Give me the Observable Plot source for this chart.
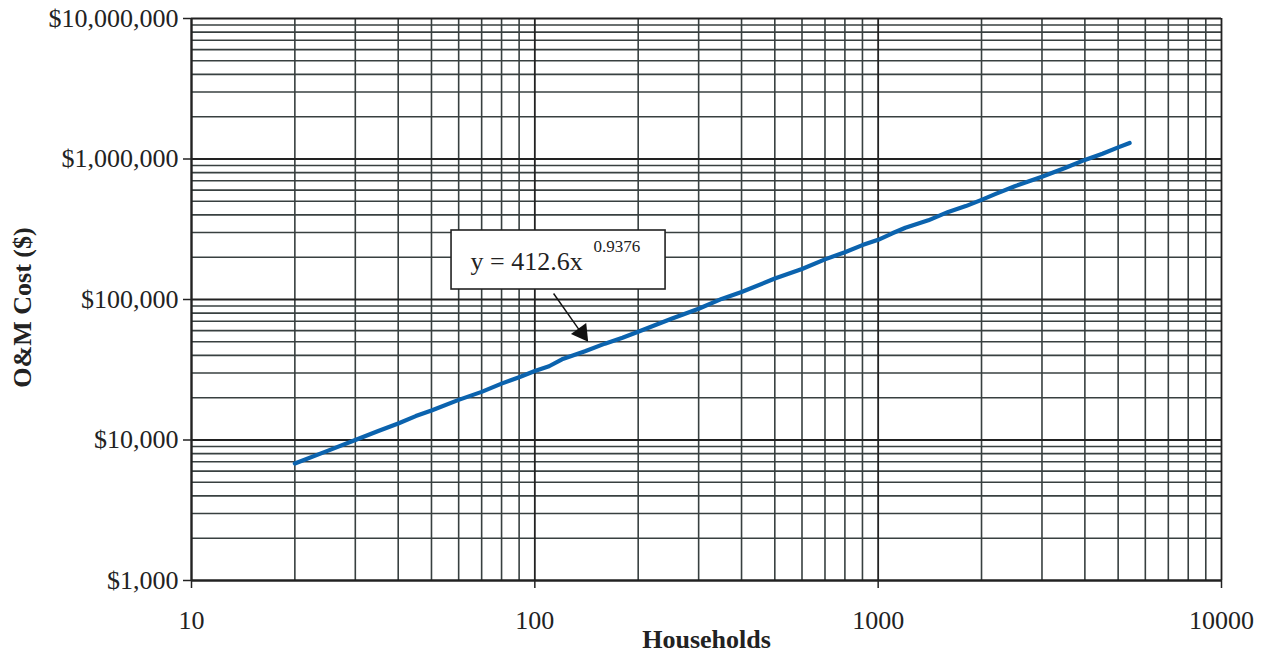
<!DOCTYPE html>
<html>
<head>
<meta charset="utf-8">
<script src="https://cdn.jsdelivr.net/npm/d3@7"></script>
<script src="https://cdn.jsdelivr.net/npm/@observablehq/plot@0.6"></script>
<style>
  html, body { margin: 0; padding: 0; background: #fff; }
  #chart svg { display: block; }
</style>
</head>
<body>
<div id="chart"></div>
<script>
// Data
const households = [20,25,30,35,40,45,50,60,70,80,90,100,110,120,140,160,180,200,250,300,350,400,500,600,700,800,900,1000,1100,1200,1400,1600,1800,2000,2200,2500,3000,3500,4000,4500,5000,5400];
const omCost = [6800,8400,10000,11600,13100,14800,16200,19300,22000,25200,28000,31000,33500,37500,42800,48500,53500,59000,73000,86000,101000,113000,141000,165000,193000,217000,244000,266000,296000,324000,366000,420000,462000,512000,565000,640000,748000,862000,985000,1090000,1210000,1300000];

// Axis tick labels
const xTicks = [10, 100, 1000, 10000];
const yTicks = [1000, 10000, 100000, 1000000, 10000000];

// Equation annotation
const eqBase = "y = 412.6x";
const eqExponent = "0.9376";
// annotation anchor positions (data units)
const boxPos = {x1: 57.2, x2: 240.3, y1: 117800, y2: 309800};
const eqBasePos = {x: 64.95, y: 160900};
const eqExpPos = {x: 148.2, y: 219600};
const arrowFrom = {x: 113.4, y: 110300};
const arrowTo = {x: 134.5, y: 61000};
const arrowHead = {x: 137.0, y: 57800};

// minor/major grid values (each integer multiple within each decade)
const xGrid = [];
for (const d of [10, 100, 1000]) for (let m = 2; m <= 9; m++) xGrid.push(d * m);
const yGrid = [];
for (const d of [1000, 10000, 100000, 1000000]) for (let m = 2; m <= 9; m++) yGrid.push(d * m);

const data = households.map((h, i) => ({households: h, cost: omCost[i]}));
const fontFamily = '"Liberation Serif", "Times New Roman", serif';
const gridColor = "#384040";

const chart = Plot.plot({
  width: 1269,
  height: 660,
  marginLeft: 191,
  marginRight: 48,
  marginTop: 18,
  marginBottom: 80,
  x: {type: "log", domain: [10, 10000]},
  y: {type: "log", domain: [1000, 10000000]},
  style: {fontFamily, fontSize: "26px", color: "#222", background: "#fff"},
  marks: [
    Plot.ruleX(xGrid, {stroke: gridColor, strokeWidth: 1.6}),
    Plot.ruleY(yGrid, {stroke: gridColor, strokeWidth: 1.6}),
    Plot.ruleX(xTicks, {stroke: "#222", strokeWidth: 1.8}),
    Plot.ruleY(yTicks, {stroke: "#222", strokeWidth: 1.8}),
    Plot.axisX({ticks: xTicks, tickSize: 8, tickPadding: 22, tickFormat: d => String(d), label: null, stroke: "#222", strokeWidth: 1.5}),
    Plot.axisY({ticks: yTicks, tickSize: 8, tickPadding: 5, tickFormat: d => "$" + d3.format(",")(d), label: null, stroke: "#222", strokeWidth: 1.5}),
    Plot.ruleX([10], {stroke: "#222", strokeWidth: 2}),
    Plot.ruleY([1000], {stroke: "#222", strokeWidth: 2}),
    Plot.line(data, {x: "households", y: "cost", stroke: "#0b63ae", strokeWidth: 4.2, strokeLinecap: "round", strokeLinejoin: "round"}),
    Plot.rect([boxPos], {x1: "x1", x2: "x2", y1: "y1", y2: "y2", fill: "#fff", stroke: "#222", strokeWidth: 1.6}),
    Plot.text([eqBase], {x: () => eqBasePos.x, y: () => eqBasePos.y, text: d => d, textAnchor: "start", lineAnchor: "bottom", fontSize: 26, fill: "#222"}),
    Plot.text([eqExponent], {x: () => eqExpPos.x, y: () => eqExpPos.y, text: d => d, textAnchor: "start", lineAnchor: "bottom", fontSize: 17, fill: "#222"}),
    Plot.link([{a: arrowFrom, b: arrowTo}], {x1: d => d.a.x, y1: d => d.a.y, x2: d => d.b.x, y2: d => d.b.y, stroke: "#111", strokeWidth: 1.4}),
    Plot.dot([arrowHead], {x: "x", y: "y", symbol: "triangle", r: 7, fill: "#111", stroke: "none", rotate: 144}),
    Plot.text(["Households"], {frameAnchor: "bottom", dy: 67, text: d => d, fontWeight: "bold", fontSize: 26, fill: "#222"}),
    Plot.text(["O&M Cost ($)"], {frameAnchor: "left", textAnchor: "middle", dx: -169, dy: 8, rotate: -90, text: d => d, fontWeight: "bold", fontSize: 26, fill: "#222"})
  ]
});
document.getElementById("chart").append(chart);
</script>
</body>
</html>
